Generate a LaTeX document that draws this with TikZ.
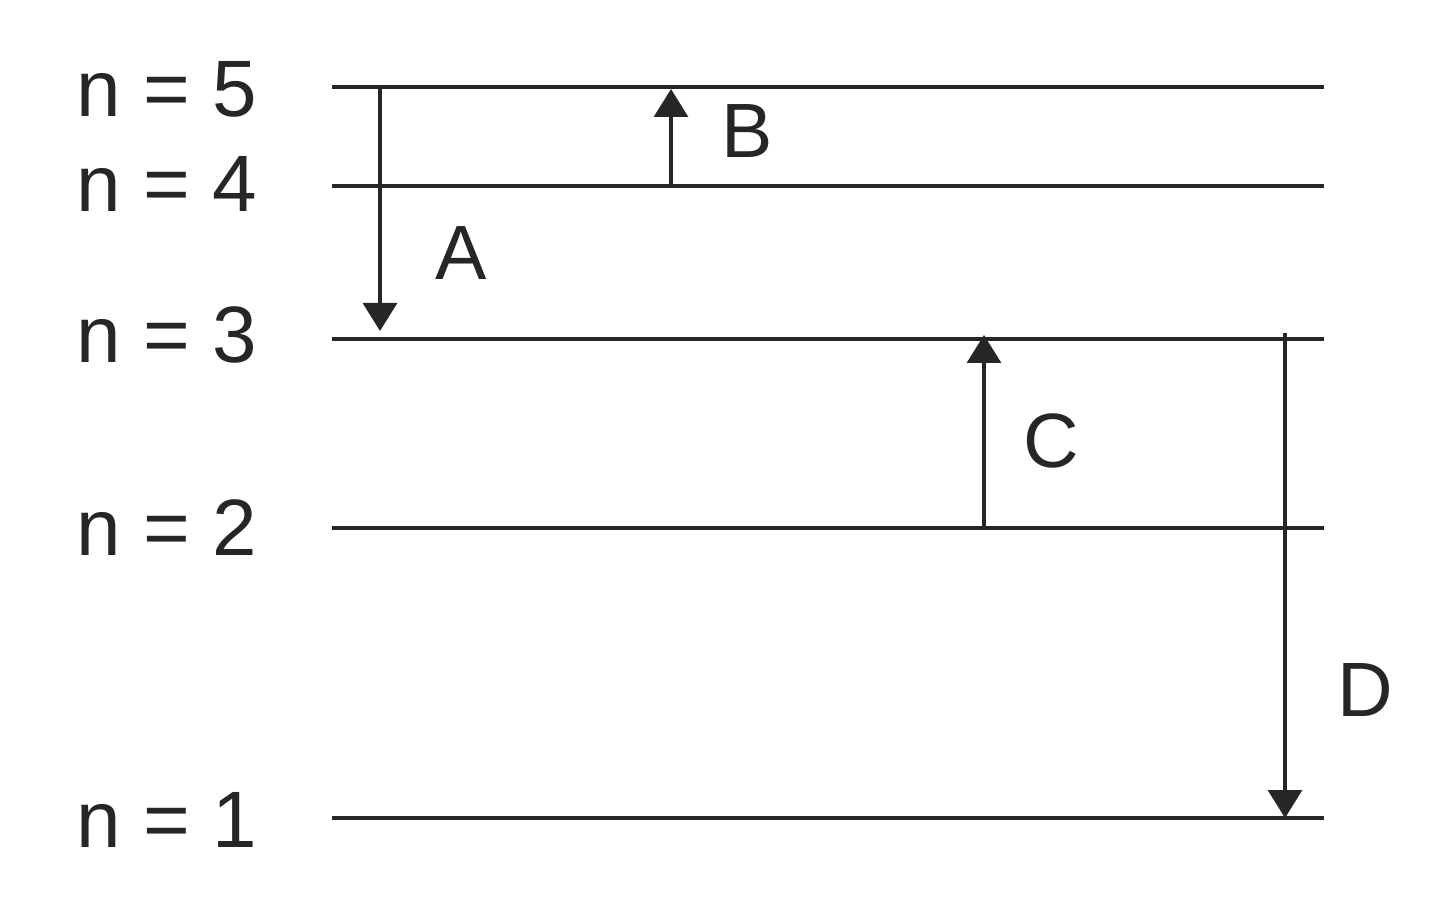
\documentclass[tikz,border=0pt]{standalone}
\usepackage{fontspec}
\setmainfont{Liberation Sans}
\usetikzlibrary{arrows.meta}
\definecolor{ink}{HTML}{262626}
\begin{document}
\begin{tikzpicture}[x=0.5pt,y=-0.5pt,
  level/.style={draw=ink,line width=1.9pt},
  trans/.style={draw=ink,line width=1.6pt,-{Triangle[width=17pt,length=14pt]}},
  lbl/.style={anchor=base west,inner sep=0pt,text=ink,font=\fontsize{38.5pt}{40pt}\selectfont},
  nlbl/.style={lbl,font=\fontsize{40pt}{42pt}\selectfont}]
\useasboundingbox (0,0) rectangle (1440,924);
% levels
\coordinate (L5a) at (332,87);  \coordinate (L5b) at (1324,87);
\coordinate (L4a) at (332,186); \coordinate (L4b) at (1324,186);
\coordinate (L3a) at (332,339); \coordinate (L3b) at (1324,339);
\coordinate (L2a) at (332,528); \coordinate (L2b) at (1324,528);
\coordinate (L1a) at (332,818); \coordinate (L1b) at (1324,818);
\draw[level] (L5a) -- (L5b);
\draw[level] (L4a) -- (L4b);
\draw[level] (L3a) -- (L3b);
\draw[level] (L2a) -- (L2b);
\draw[level] (L1a) -- (L1b);
% level labels
\node[nlbl] (n5) at (76,117) {n = 5};
\node[nlbl] (n4) at (76,212) {n = 4};
\node[nlbl] (n3) at (76,363) {n = 3};
\node[nlbl] (n2) at (76,556) {n = 2};
\node[nlbl] (n1) at (76,847) {n = 1};
% transitions
\coordinate (As) at (380,87);   \coordinate (Ae) at (380,331);
\coordinate (Bs) at (671,186);  \coordinate (Be) at (671,89);
\coordinate (Cs) at (984,528);  \coordinate (Ce) at (984,335);
\coordinate (Ds) at (1285,333); \coordinate (De) at (1285,818);
\draw[trans] (As) -- (Ae);
\draw[trans] (Bs) -- (Be);
\draw[trans] (Cs) -- (Ce);
\draw[trans] (Ds) -- (De);
\node[lbl] (A) at (435,280) {A};
\node[lbl] (B) at (721,158) {B};
\node[lbl] (C) at (1023,468) {C};
\node[lbl] (D) at (1337,716) {D};
\end{tikzpicture}
\end{document}
